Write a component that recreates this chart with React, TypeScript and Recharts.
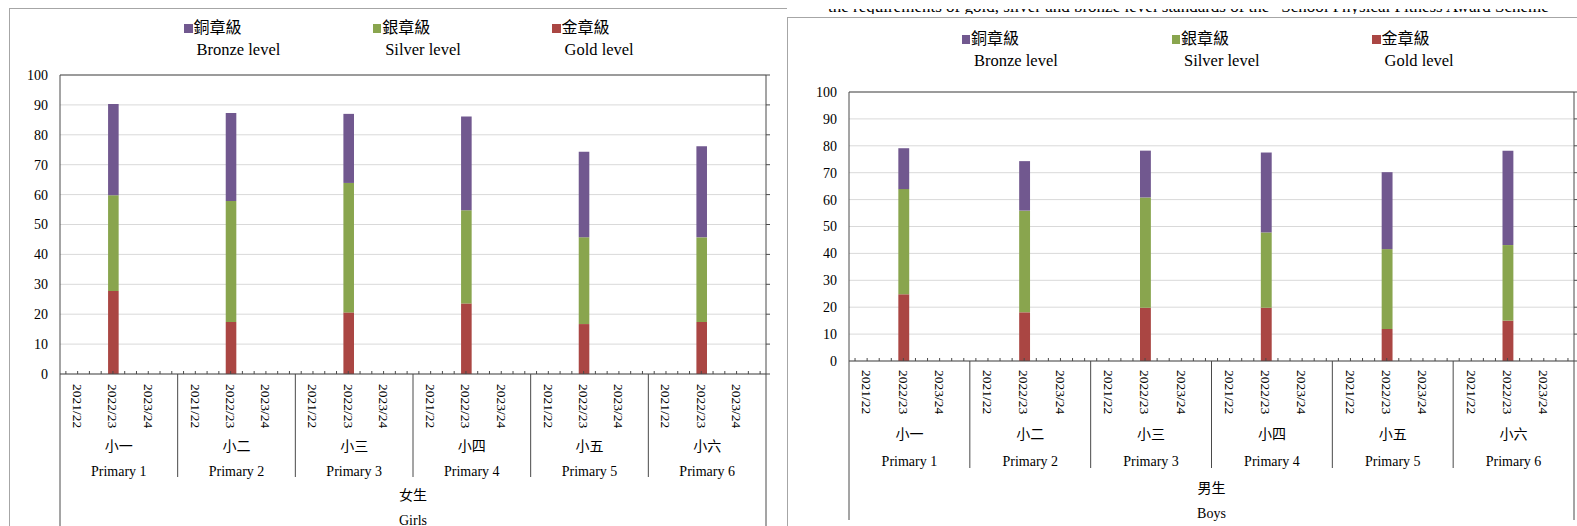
import React from 'react';
import { BarChart, Bar, XAxis, YAxis, CartesianGrid, ReferenceLine } from 'recharts';

// ---------- data ----------
const grades = ['小一', '小二', '小三', '小四', '小五', '小六'];
const gradesEn = ['Primary 1', 'Primary 2', 'Primary 3', 'Primary 4', 'Primary 5', 'Primary 6'];
const years = ['2021/22', '2022/23', '2023/24'];
const reportedYear = '2022/23';
const yTicks = [0, 10, 20, 30, 40, 50, 60, 70, 80, 90, 100];

// 女生 Girls (2022/23), per level (%)
const girlsGold = [27.8, 17.4, 20.6, 23.6, 16.7, 17.4];
const girlsSilver = [32.0, 40.5, 43.3, 31.2, 29.0, 28.3];
const girlsBronze = [30.5, 29.4, 23.1, 31.3, 28.6, 30.5];

// 男生 Boys (2022/23), per level (%)
const boysGold = [24.8, 18.1, 19.8, 19.8, 11.9, 15.0];
const boysSilver = [39.1, 37.8, 41.0, 28.0, 29.7, 28.1];
const boysBronze = [15.2, 18.4, 17.4, 29.7, 28.6, 35.1];

const levels = [
  { key: 'bronze', cn: '銅章級', en: 'Bronze level' },
  { key: 'silver', cn: '銀章級', en: 'Silver level' },
  { key: 'gold', cn: '金章級', en: 'Gold level' },
];

// ---------- style ----------
const COLORS: Record<string, string> = { bronze: '#71588F', silver: '#89A54E', gold: '#AA4643' };
const AXIS = '#4a4a4a';
const GRID = '#d9d9d9';
const FONT = "'Liberation Serif', 'Noto Sans CJK TC', serif";
const SLOTS_PER_GRADE = 10;
const YEAR_SLOTS = [1, 4, 7];

function buildRows(gold: number[], silver: number[], bronze: number[]) {
  const rows: any[] = [];
  grades.forEach((g, gi) => {
    for (let s = 0; s < SLOTS_PER_GRADE; s++) {
      const yi = YEAR_SLOTS.indexOf(s);
      const year = yi >= 0 ? years[yi] : '';
      const has = year === reportedYear;
      rows.push({
        key: `${gi}-${s}`,
        year,
        gold: has ? gold[gi] : null,
        silver: has ? silver[gi] : null,
        bronze: has ? bronze[gi] : null,
      });
    }
  });
  return rows;
}

const girlsRows = buildRows(girlsGold, girlsSilver, girlsBronze);
const boysRows = buildRows(boysGold, boysSilver, boysBronze);

type Cfg = {
  x: number; width: number; height: number; marginTop: number; yAxisWidth: number; plotBottom: number;
  yearTop: number; cnY: number; enY: number; genderCnY: number; genderEnY: number;
  sepLen: number; outerLen: number; legendX: number[]; legendCnY: number; legendEnY: number;
};

const leftCfg: Cfg = {
  x: 0, width: 780, height: 526, marginTop: 75, yAxisWidth: 60, plotBottom: 374,
  yearTop: 10, cnY: 72, enY: 97, genderCnY: 121, genderEnY: 146,
  sepLen: 103, outerLen: 170, legendX: [184, 372.7, 552], legendCnY: 28, legendEnY: 49,
};
const rightCfg: Cfg = {
  x: 788, width: 800, height: 526, marginTop: 92, yAxisWidth: 61, plotBottom: 361,
  yearTop: 9, cnY: 73, enY: 100, genderCnY: 127, genderEnY: 152,
  sepLen: 107, outerLen: 159, legendX: [961.5, 1171.5, 1372], legendCnY: 39, legendEnY: 60,
};

function Legend2({ cfg }: { cfg: Cfg }) {
  return (
    <>
      {levels.map((l, i) => {
        const x = cfg.legendX[i];
        return (
          <React.Fragment key={l.key}>
            <div style={{ position: 'absolute', left: x, top: cfg.legendCnY - 4.5, width: 8.5, height: 9, background: COLORS[l.key] }} />
            <div style={{ position: 'absolute', left: x + 9.5, top: cfg.legendCnY, transform: 'translateY(-50%)', fontFamily: FONT, fontSize: 16, lineHeight: '16px', whiteSpace: 'nowrap', color: '#000' }}>{l.cn}</div>
            <div style={{ position: 'absolute', left: x + 12.5, top: cfg.legendEnY, transform: 'translateY(-50%)', fontFamily: FONT, fontSize: 16.5, lineHeight: '17px', whiteSpace: 'nowrap', color: '#000' }}>{l.en}</div>
          </React.Fragment>
        );
      })}
    </>
  );
}

function GenderChart({ cfg, rows, genderCn, genderEn }: { cfg: Cfg; rows: any[]; genderCn: string; genderEn: string }) {
  const n = rows.length;
  const plotW = cfg.width - cfg.yAxisWidth - 14;

  const AxisTick = (props: any) => {
    const { x, y, index, payload } = props;
    const row = rows[index];
    const half = payload && payload.offset ? payload.offset : plotW / n / 2;
    const slot = index % SLOTS_PER_GRADE;
    const gi = Math.floor(index / SLOTS_PER_GRADE);
    const txt = { fontFamily: FONT, fill: '#000' } as any;
    return (
      <g>
        <line x1={x} x2={x} y1={y} y2={y - 3} stroke={AXIS} strokeWidth={1} />
        {row && row.year ? (
          <text transform={`translate(${x},${y + cfg.yearTop}) rotate(90)`} dy="0.35em" fontSize={13.5} textAnchor="start" {...txt}>
            {row.year}
          </text>
        ) : null}
        {slot === 0 ? (
          <line x1={x - half} x2={x - half} y1={y} y2={y + (gi === 0 ? cfg.outerLen : cfg.sepLen)} stroke={AXIS} strokeWidth={1} />
        ) : null}
        {index === n - 1 ? (
          <line x1={x + half} x2={x + half} y1={y} y2={y + cfg.outerLen} stroke={AXIS} strokeWidth={1} />
        ) : null}
        {slot === SLOTS_PER_GRADE / 2 - 1 ? (
          <>
            <text x={x + half} y={y + cfg.cnY} textAnchor="middle" dominantBaseline="central" fontSize={14} {...txt}>{grades[gi]}</text>
            <text x={x + half} y={y + cfg.enY} textAnchor="middle" dominantBaseline="central" fontSize={14} {...txt}>{gradesEn[gi]}</text>
          </>
        ) : null}
        {index === n / 2 - 1 ? (
          <>
            <text x={x + half} y={y + cfg.genderCnY} textAnchor="middle" dominantBaseline="central" fontSize={14} {...txt}>{genderCn}</text>
            <text x={x + half} y={y + cfg.genderEnY} textAnchor="middle" dominantBaseline="central" fontSize={14} {...txt}>{genderEn}</text>
          </>
        ) : null}
      </g>
    );
  };

  return (
    <div style={{ position: 'absolute', left: cfg.x, top: 0, width: cfg.width, height: cfg.height }}>
      <BarChart width={cfg.width} height={cfg.height} data={rows} margin={{ top: cfg.marginTop, right: 4, left: 0, bottom: cfg.height - cfg.plotBottom - 1 }} barCategoryGap={0}>
        <CartesianGrid yAxisId="l" vertical={false} stroke={GRID} strokeWidth={1} />
        <XAxis dataKey="key" interval={0} height={1} tickSize={0} tickMargin={0} tickLine={false} axisLine={{ stroke: AXIS, strokeWidth: 1 }} tick={AxisTick} />
        <YAxis yAxisId="l" type="number" domain={[0, 100]} ticks={yTicks} interval={0} width={cfg.yAxisWidth} tickSize={0} tickMargin={12} tickLine={false} axisLine={{ stroke: AXIS, strokeWidth: 1 }} tick={{ fontSize: 14, fontFamily: FONT, fill: '#000' }} />
        <YAxis yAxisId="r" orientation="right" type="number" domain={[0, 100]} allowDataOverflow ticks={yTicks} interval={0} width={10} tickSize={4} tickLine={{ stroke: AXIS }} axisLine={{ stroke: AXIS, strokeWidth: 1 }} tick={() => null} />
        <ReferenceLine yAxisId="l" y={100} stroke={AXIS} strokeWidth={1} />
        <Bar yAxisId="l" dataKey="gold" stackId="s" fill={COLORS.gold} barSize={13} isAnimationActive={false} />
        <Bar yAxisId="l" dataKey="silver" stackId="s" fill={COLORS.silver} barSize={13} isAnimationActive={false} />
        <Bar yAxisId="l" dataKey="bronze" stackId="s" fill={COLORS.bronze} barSize={13} isAnimationActive={false} />
      </BarChart>
    </div>
  );
}

export default function App() {
  return (
    <div style={{ position: 'absolute', left: 0, top: 0, width: 1577, height: 526, overflow: 'hidden', background: '#fff' }}>
      {/* left (girls) chart frame */}
      <div style={{ position: 'absolute', left: 9, top: 8, width: 777, height: 600, borderTop: '1px solid #a6a6a6', borderLeft: '1px solid #a6a6a6', background: '#fff' }} />
      <GenderChart cfg={leftCfg} rows={girlsRows} genderCn="女生" genderEn="Girls" />
      <Legend2 cfg={leftCfg} />

      {/* cut-off line of text above the right chart */}
      <div style={{ position: 'absolute', left: 828, top: 8.5, width: 740, height: 5, overflow: 'hidden' }}>
        <div style={{ position: 'absolute', left: 0, top: -10.25, fontFamily: FONT, fontSize: 17, lineHeight: '17px', whiteSpace: 'nowrap', color: '#000' }}>
          the requirements of gold, silver and bronze level standards of the “School Physical Fitness Award Scheme”
        </div>
      </div>

      {/* right (boys) chart frame */}
      <div style={{ position: 'absolute', left: 787, top: 17, width: 900, height: 600, border: '1px solid #a6a6a6', background: '#fff' }} />
      <GenderChart cfg={rightCfg} rows={boysRows} genderCn="男生" genderEn="Boys" />
      <Legend2 cfg={rightCfg} />
    </div>
  );
}
